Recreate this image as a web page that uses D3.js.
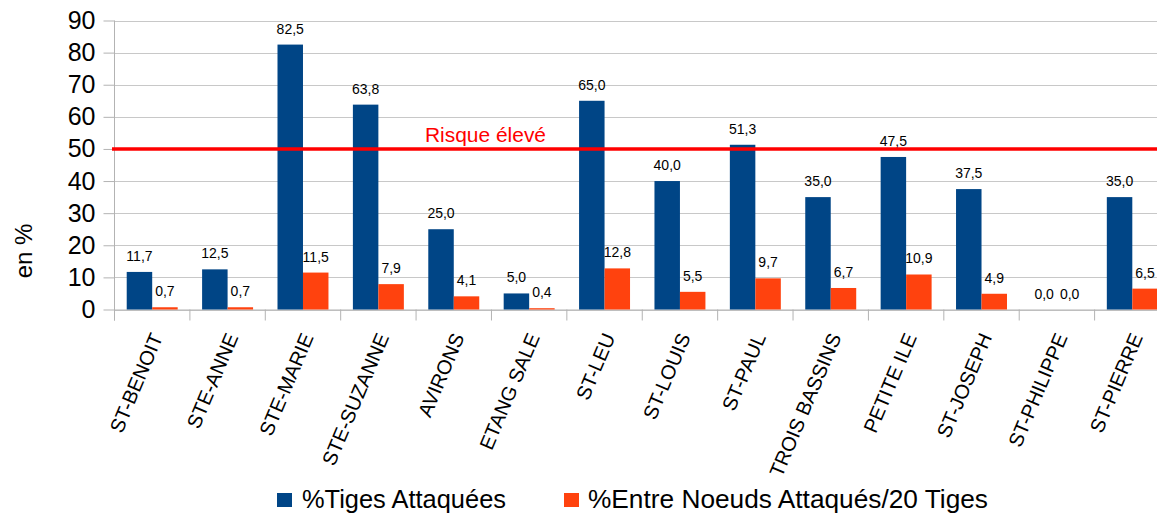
<!DOCTYPE html>
<html>
<head>
<meta charset="utf-8">
<script src="https://cdn.jsdelivr.net/npm/d3@7"></script>
<style>
  html, body { margin: 0; padding: 0; background: #fff; }
  svg { display: block; }
  text { font-family: "Liberation Sans", Arial, sans-serif; }
</style>
</head>
<body>
<svg id="chart" width="1157" height="514"></svg>
<script>
// Communes surveyed
const communes = ["ST-BENOIT", "STE-ANNE", "STE-MARIE", "STE-SUZANNE", "AVIRONS", "ETANG SALE",
  "ST-LEU", "ST-LOUIS", "ST-PAUL", "TROIS BASSINS", "PETITE ILE", "ST-JOSEPH", "ST-PHILIPPE", "ST-PIERRE"];
// % of stems attacked
const tigesAttaquees = [11.7, 12.5, 82.5, 63.8, 25.0, 5.0, 65.0, 40.0, 51.3, 35.0, 47.5, 37.5, 0.0, 35.0];
// % of internodes attacked over 20 stems
const entreNoeudsAttaques = [0.7, 0.7, 11.5, 7.9, 4.1, 0.4, 12.8, 5.5, 9.7, 6.7, 10.9, 4.9, 0.0, 6.5];
const seriesNames = ["%Tiges Attaquées", "%Entre Noeuds Attaqués/20 Tiges"];
const seriesColors = ["#004586", "#ff420e"];
const yTicks = [0, 10, 20, 30, 40, 50, 60, 70, 80, 90];
const riskThreshold = 50;
const riskLabel = "Risque élevé";
const yTitle = "en %";

const svg = d3.select("#chart");
const plot = { left: 114.5, right: 1170, top: 20.5, bottom: 309.5 };

const x0 = d3.scaleBand().domain(communes).range([plot.left, plot.right])
  .paddingInner(0.324).paddingOuter(0.162);
const x1 = d3.scaleBand().domain(d3.range(2)).range([0, x0.bandwidth()]);
const y = d3.scaleLinear().domain([0, 90]).range([plot.bottom, plot.top]);

const fmt = v => v.toFixed(1).replace(".", ",");

// Horizontal gridlines
svg.append("g").selectAll("line").data(yTicks).join("line")
  .attr("x1", plot.left).attr("x2", plot.right)
  .attr("y1", d => Math.round(y(d)) + 0.5).attr("y2", d => Math.round(y(d)) + 0.5)
  .attr("stroke", "#c8c8c8").attr("stroke-width", 1);

// Y axis
const yAxis = d3.axisLeft(y).tickValues(yTicks).tickSize(11).tickPadding(8).tickFormat(d3.format("d"));
const gy = svg.append("g").attr("transform", `translate(${plot.left},0)`).call(yAxis);
gy.select(".domain").remove();
gy.selectAll(".tick line").attr("stroke", "#b3b3b3");
gy.selectAll(".tick text").attr("font-size", 25).attr("fill", "#000")
  .attr("font-family", "'Liberation Sans', Arial, sans-serif");
svg.append("line").attr("x1", plot.left).attr("x2", plot.left)
  .attr("y1", plot.top).attr("y2", plot.bottom + 11)
  .attr("stroke", "#b3b3b3");

// X axis baseline and category separators
svg.append("line").attr("x1", plot.left).attr("x2", plot.right)
  .attr("y1", plot.bottom + 0.5).attr("y2", plot.bottom + 0.5).attr("stroke", "#b3b3b3");
const step = x0.step();
svg.append("g").selectAll("line").data(d3.range(communes.length + 1)).join("line")
  .attr("x1", i => plot.left + i * step).attr("x2", i => plot.left + i * step)
  .attr("y1", plot.bottom).attr("y2", plot.bottom + 11)
  .attr("stroke", "#b3b3b3");

// Y axis title
svg.append("text").attr("transform", `translate(32,251) rotate(-90)`)
  .attr("text-anchor", "middle").attr("font-size", 24).text(yTitle);

// Bars
const rows = communes.map((c, i) => ({ c, vals: [tigesAttaquees[i], entreNoeudsAttaques[i]] }));
const groups = svg.append("g").selectAll("g").data(rows).join("g")
  .attr("transform", d => `translate(${x0(d.c)},0)`);
groups.selectAll("rect").data(d => d.vals.map((v, k) => ({ v, k }))).join("rect")
  .attr("x", d => x1(d.k)).attr("width", x1.bandwidth())
  .attr("y", d => y(d.v)).attr("height", d => y(0) - y(d.v))
  .attr("fill", d => seriesColors[d.k]);

// Value labels
groups.selectAll("text").data(d => d.vals.map((v, k) => ({ v, k }))).join("text")
  .attr("x", d => x1(d.k) + x1.bandwidth() / 2)
  .attr("y", d => y(d.v) - 11)
  .attr("text-anchor", "middle").attr("font-size", 14).attr("fill", "#000")
  .text(d => fmt(d.v));

// High-risk threshold line
svg.append("line").attr("x1", 112).attr("x2", 1157)
  .attr("y1", y(riskThreshold)).attr("y2", y(riskThreshold))
  .attr("stroke", "#ff0000").attr("stroke-width", 3.5);
svg.append("text").attr("x", 425).attr("y", 142)
  .attr("font-family", "Lato, 'Open Sans', sans-serif").attr("font-size", 20)
  .attr("fill", "#ff0000").attr("textLength", 121).attr("lengthAdjust", "spacingAndGlyphs")
  .text(riskLabel);

// Category labels
svg.append("g").selectAll("text").data(communes).join("text")
  .attr("transform", d => `translate(${x0(d) + x0.bandwidth() / 2 + 11},337) rotate(-67)`)
  .attr("text-anchor", "end").attr("font-size", 20).attr("fill", "#000")
  .text(d => d);

// Legend
const legendItems = [
  { name: seriesNames[0], color: seriesColors[0], sx: 277, tx: 302, len: 204 },
  { name: seriesNames[1], color: seriesColors[1], sx: 564, tx: 588, len: 400 }
];
const lg = svg.append("g");
lg.selectAll("rect").data(legendItems).join("rect")
  .attr("x", d => d.sx).attr("y", 493).attr("width", 15).attr("height", 14)
  .attr("fill", d => d.color);
lg.selectAll("text").data(legendItems).join("text")
  .attr("x", d => d.tx).attr("y", 508)
  .attr("font-size", 26).attr("fill", "#000")
  .attr("textLength", d => d.len).attr("lengthAdjust", "spacingAndGlyphs")
  .text(d => d.name);
</script>
</body>
</html>
